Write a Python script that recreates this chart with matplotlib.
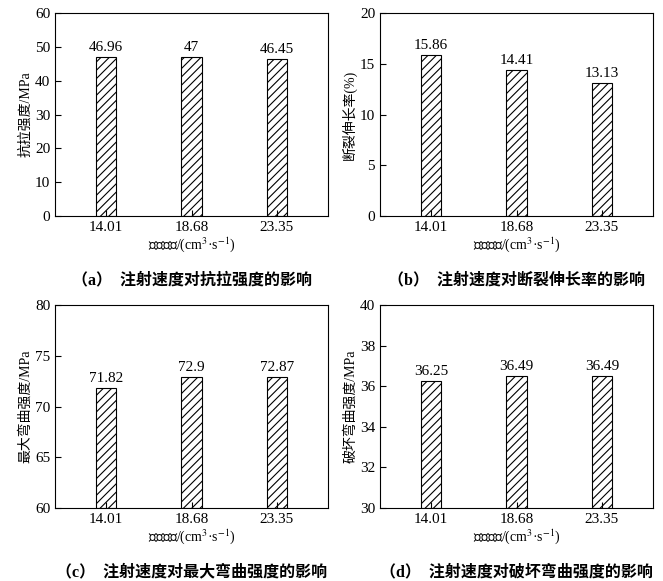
import matplotlib
matplotlib.use("Agg")
import matplotlib.pyplot as plt

plt.rcParams['font.family'] = ['Liberation Serif', 'Noto Sans CJK SC']
plt.rcParams['mathtext.fontset'] = 'stix'
plt.rcParams['hatch.linewidth'] = 0.8

categories = ["14.01", "18.68", "23.35"]
tensile = [46.96, 47, 46.45]
elongation = [15.86, 14.41, 13.13]
flex = [71.82, 72.9, 72.87]
flex_break = [36.25, 36.49, 36.49]
labels_a = ["46.96", "47", "46.45"]
labels_b = ["15.86", "14.41", "13.13"]
labels_c = ["71.82", "72.9", "72.87"]
labels_d = ["36.25", "36.49", "36.49"]

panels = [
    (tensile, labels_a, "抗拉强度/MPa", (0, 60), 10, "（a）  注射速度对抗拉强度的影响"),
    (elongation, labels_b, "断裂伸长率(%)", (0, 20), 5, "（b）  注射速度对断裂伸长率的影响"),
    (flex, labels_c, "最大弯曲强度/MPa", (60, 80), 5, "（c）  注射速度对最大弯曲强度的影响"),
    (flex_break, labels_d, "破坏弯曲强度/MPa", (30, 40), 2, "（d）  注射速度对破坏弯曲强度的影响"),
]
W, H = 663, 581
fig = plt.figure(figsize=(W/100, H/100), dpi=100)
boxes = [(55, 13), (380, 13), (55, 305), (380, 305)]
aw, ah = 273, 203
for (vals, labs, ylab, ylim, step, title), (x0, y0) in zip(panels, boxes):
    ax = fig.add_axes([x0/W, 1-(y0+ah)/H, aw/W, ah/H])
    xs = range(len(categories))
    ax.bar(xs, [v-ylim[0] for v in vals], bottom=ylim[0], width=0.24,
           color='white', edgecolor='black', hatch='////', linewidth=0.8)
    for x, v, l in zip(xs, vals, labs):
        ax.text(x, v + (ylim[1]-ylim[0])*0.015, l, ha='center', va='bottom', fontsize=11)
    ax.set_xlim(-0.6, 2.6)
    ax.set_ylim(*ylim)
    ax.set_yticks(range(ylim[0], ylim[1]+1, step))
    ax.set_xticks(list(xs))
    ax.set_xticklabels(categories)
    ax.tick_params(direction='in', labelsize=11, length=4)
    ax.set_ylabel(ylab, fontsize=10, labelpad=2)
    ax.set_xlabel(r"注射速度/(cm$^{3}$·s$^{-1}$)", fontsize=10, labelpad=1)
    ax.text(0.5, -0.28, title, transform=ax.transAxes, ha='center', va='top',
            fontsize=11.5, fontweight='bold')
fig.savefig("out.png", dpi=100)
